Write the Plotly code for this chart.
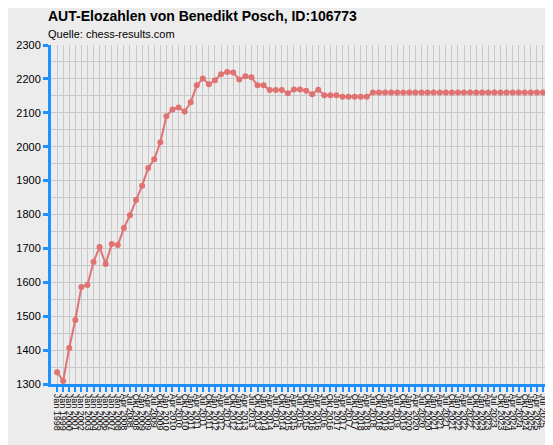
import plotly.graph_objects as go

# Zeitpunkte: jährlich 1998-2007, danach quartalsweise bis Okt 2025
months = ['Jan', 'Apr', 'Jul', 'Okt']
labels = ['Jan {}'.format(y) for y in range(1998, 2008)]
labels += ['{} {}'.format(m, y) for y in range(2008, 2026) for m in months]

elo = [1335, 1309, 1406, 1489, 1586, 1592, 1660, 1704, 1654, 1713,
       1710, 1760, 1798, 1843, 1885, 1937, 1963, 2013, 2090, 2110,
       2116, 2104, 2131, 2181, 2201, 2184, 2196, 2214, 2220, 2219,
       2198, 2208, 2205, 2181, 2181, 2167, 2167, 2167, 2158, 2169,
       2169, 2165, 2155, 2168, 2152, 2152, 2152, 2147, 2147, 2147,
       2147, 2147] + [2160] * 30

x = list(range(len(elo)))
BLUE = '#1e90ff'

fig = go.Figure(go.Scatter(
    x=x, y=elo, mode='lines+markers',
    line={'color': '#e06666', 'width': 2},
    marker={'color': '#e06666', 'size': 6},
    opacity=0.9, cliponaxis=False
))

fig.update_layout(
    width=553, height=445,
    paper_bgcolor='#ececec', plot_bgcolor='#ececec',
    margin={'l': 43, 'r': 8, 't': 37, 'b': 69},
    showlegend=False,
    font={'family': 'Liberation Sans', 'size': 11, 'color': 'black'},
)
fig.add_annotation(text='<b>AUT-Elozahlen von Benedikt Posch, ID:106773</b>',
                   xref='paper', yref='paper', x=-0.01, y=1.056, xanchor='left',
                   yanchor='bottom', showarrow=False, font={'size': 14})
fig.add_annotation(text='Quelle: chess-results.com',
                   xref='paper', yref='paper', x=-0.01, y=1.008, xanchor='left',
                   yanchor='bottom', showarrow=False, font={'size': 11})

fig.update_xaxes(
    range=[-1, len(elo) - 0.35], tickmode='array', tickvals=x, ticktext=labels,
    tickangle=90, tickfont={'size': 9}, showgrid=True, gridcolor='#c8c8c8',
    showline=True, linecolor=BLUE, linewidth=3, ticks='outside',
    tickcolor=BLUE, tickwidth=2, ticklen=5, zeroline=False, automargin=False
)
fig.update_yaxes(
    range=[1300, 2300], tickmode='array', tickvals=list(range(1300, 2301, 100)),
    showgrid=True, gridcolor='#c8c8c8',
    minor={'dtick': 50, 'showgrid': True, 'gridcolor': '#c8c8c8'},
    showline=True, linecolor=BLUE, linewidth=3, ticks='outside',
    tickcolor=BLUE, tickwidth=3, ticklen=5, zeroline=False, automargin=False
)

fig.write_html('out.html')
